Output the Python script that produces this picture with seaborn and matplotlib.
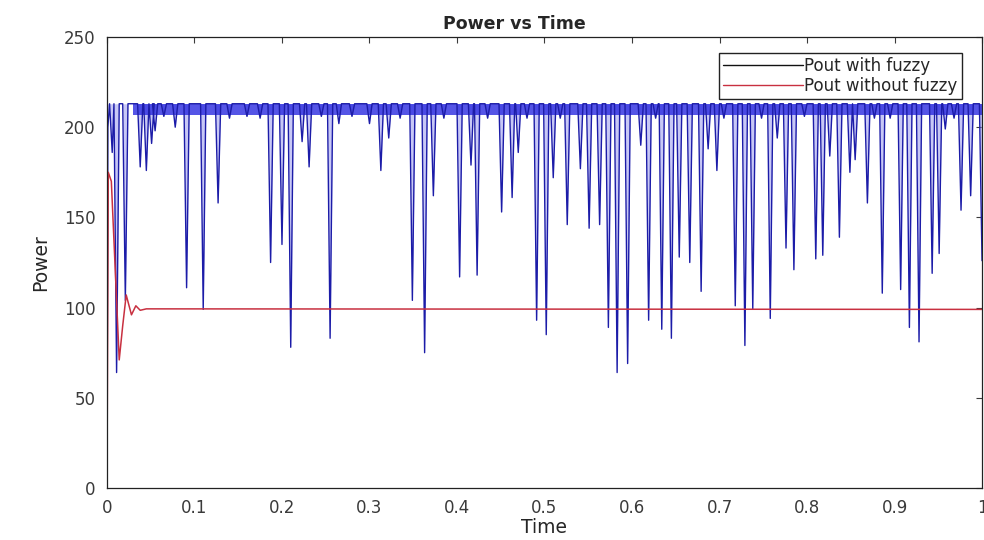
import numpy as np
import pandas as pd
import seaborn as sns
import matplotlib.pyplot as plt
from matplotlib.lines import Line2D

# dips of the fuzzy-controlled output (time, power at the bottom of each dip)
dip_time = [0.011, 0.021, 0.038, 0.045, 0.051, 0.055, 0.065, 0.078, 0.091, 0.110,
            0.127, 0.140, 0.160, 0.175, 0.187, 0.200, 0.210, 0.223, 0.231, 0.245,
            0.255, 0.265, 0.280, 0.300, 0.313, 0.322, 0.335, 0.349, 0.363, 0.373,
            0.385, 0.403, 0.416, 0.423, 0.435, 0.451, 0.463, 0.470, 0.480, 0.491,
            0.502, 0.510, 0.518, 0.526, 0.541, 0.551, 0.563, 0.573, 0.583, 0.595,
            0.610, 0.619, 0.627, 0.634, 0.645, 0.654, 0.666, 0.679, 0.687, 0.697,
            0.705, 0.718, 0.729, 0.738, 0.748, 0.758, 0.766, 0.776, 0.785, 0.797,
            0.810, 0.818, 0.826, 0.837, 0.849, 0.855, 0.869, 0.877, 0.886, 0.895,
            0.907, 0.917, 0.928, 0.943, 0.951, 0.958, 0.968, 0.976, 0.987, 1.000]
dip_power = [64, 104, 178, 176, 191, 198, 206, 200, 111, 99,
             158, 205, 206, 205, 125, 135, 78, 192, 178, 206,
             83, 202, 206, 202, 176, 194, 205, 104, 75, 162,
             205, 117, 179, 118, 205, 153, 161, 186, 205, 93,
             85, 172, 205, 146, 177, 144, 146, 89, 64, 69,
             190, 93, 205, 88, 83, 128, 125, 109, 188, 176,
             205, 101, 79, 99, 205, 94, 194, 133, 121, 206,
             127, 129, 184, 139, 175, 182, 158, 205, 108, 205,
             110, 89, 81, 119, 130, 199, 205, 154, 162, 126]
fuzzy_top = 213
ripple_low = 207

# start-up of the fuzzy output
start_time = [0.0, 0.001, 0.003, 0.006, 0.008]
start_power = [0, 200, 213, 186, 213]

# output without fuzzy (second order step response)
nofuzzy_time = [0.0, 0.0015, 0.005, 0.014, 0.018, 0.022, 0.028, 0.033, 0.038, 0.045, 1.0]
nofuzzy_power = [0, 175, 170, 71, 90, 107, 96, 101, 98.5, 99.3, 99]

# build fuzzy trace from the dip list
half_w = 0.003
t_fz, p_fz = list(start_time), list(start_power)
for t, p in zip(dip_time, dip_power):
    t_fz += [t - half_w, t]
    p_fz += [fuzzy_top, p]
    if t + half_w <= 1.0:
        t_fz.append(t + half_w)
        p_fz.append(fuzzy_top)

fuzzy = pd.DataFrame({"Time": t_fz, "Power": p_fz})
nofuzzy = pd.DataFrame({"Time": nofuzzy_time, "Power": nofuzzy_power})

sns.set_theme(style="white")
plt.rcParams["font.family"] = ["DejaVu Sans"]

fig = plt.figure(figsize=(9.84, 5.40), dpi=100)
ax = fig.add_axes([0.1087, 0.0963, 0.8893, 0.8352])

# light wedge inside each dip and the ripple band on top
ax.fill_between(fuzzy["Time"], fuzzy["Power"], fuzzy_top, color="#9c9cf0", alpha=0.55, lw=0)
ax.fill_between([0.03, 1.0], ripple_low, fuzzy_top, color="#2a2ae0", alpha=0.8, lw=0)

sns.lineplot(data=fuzzy, x="Time", y="Power", ax=ax, color="#1c1ca8", lw=1.0,
             estimator=None, sort=False)
sns.lineplot(data=nofuzzy, x="Time", y="Power", ax=ax, color="#c83040", lw=1.1,
             estimator=None, sort=False)

ax.set_xlim(0, 1)
ax.set_ylim(0, 250)
ax.set_xticks(np.arange(0, 1.01, 0.1))
ax.set_xticklabels(["0", "0.1", "0.2", "0.3", "0.4", "0.5", "0.6", "0.7", "0.8", "0.9", "1"])
ax.set_yticks([0, 50, 100, 150, 200, 250])
ax.tick_params(direction="in", length=4, width=0.8, top=True, right=True,
               labelsize=12, colors="#3a3a3a")
ax.tick_params(axis="x", pad=8)
ax.tick_params(axis="y", pad=8)
for s in ax.spines.values():
    s.set_color("#222222")
    s.set_linewidth(0.9)

ax.set_title("Power vs Time", fontsize=12.5, fontweight="bold", pad=6, x=0.466)
ax.set_xlabel("Time", fontsize=13.5, labelpad=1)
ax.set_ylabel("Power", fontsize=13.5, labelpad=10)

handles = [Line2D([], [], color="#111111", lw=1), Line2D([], [], color="#c83040", lw=1)]
ax.legend(handles, ["Pout with fuzzy", "Pout without fuzzy"], loc="upper right",
          bbox_to_anchor=(0.977, 0.965), fontsize=12, frameon=True, fancybox=False,
          edgecolor="#222222", framealpha=1, borderpad=0.25, handlelength=4.8,
          handletextpad=0.1, labelspacing=0.1, borderaxespad=0)

fig.savefig("out.png", dpi=100)
